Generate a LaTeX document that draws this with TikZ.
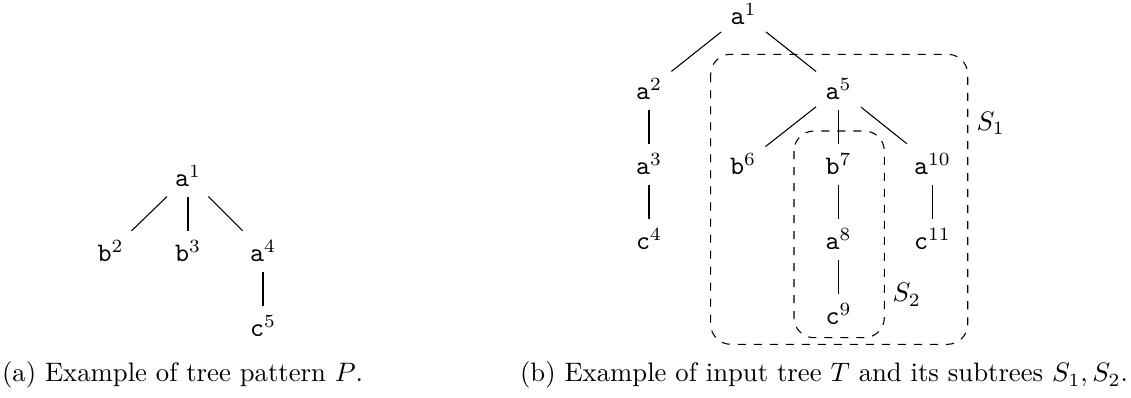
\documentclass[tikz,border=0pt]{standalone}
\begin{document}
\begin{tikzpicture}[x=0.3745pt,y=-0.3745pt,
  tn/.style={anchor=base,inner sep=0.3333em},
  subbox/.style={draw,dashed,rounded corners=7.5pt},
  lbl/.style={anchor=base west,inner sep=0pt},
  captext/.style={anchor=base west,inner sep=0pt}]
\useasboundingbox (0,0) rectangle (1131,398);
% tree pattern P
\node[tn] (p1) at (188,187) {\texttt{a}$^{1}$};
\node[tn] (p2) at (110.5,262) {\texttt{b}$^{2}$};
\node[tn] (p3) at (188,262) {\texttt{b}$^{3}$};
\node[tn] (p4) at (263,262) {\texttt{a}$^{4}$};
\node[tn] (p5) at (263,337) {\texttt{c}$^{5}$};
\draw (p1) -- (p2);
\draw (p1) -- (p3);
\draw (p1) -- (p4);
\draw (p4) -- (p5);
% input tree T
\node[tn] (t1) at (743.5,25) {\texttt{a}$^{1}$};
\node[tn] (t2) at (649,100) {\texttt{a}$^{2}$};
\node[tn] (t5) at (838.5,100) {\texttt{a}$^{5}$};
\node[tn] (t3) at (649,175) {\texttt{a}$^{3}$};
\node[tn] (t6) at (743,175) {\texttt{b}$^{6}$};
\node[tn] (t7) at (838.5,175) {\texttt{b}$^{7}$};
\node[tn] (t10) at (932.5,175) {\texttt{a}$^{10}$};
\node[tn] (t4) at (649,250) {\texttt{c}$^{4}$};
\node[tn] (t8) at (838.5,250) {\texttt{a}$^{8}$};
\node[tn] (t11) at (932.5,250) {\texttt{c}$^{11}$};
\node[tn] (t9) at (838.5,325) {\texttt{c}$^{9}$};
\draw (t1) -- (t2);
\draw (t1) -- (t5);
\draw (t2) -- (t3);
\draw (t3) -- (t4);
\draw (t5) -- (t6);
\draw (t5) -- (t7);
\draw (t5) -- (t10);
\draw (t7) -- (t8);
\draw (t8) -- (t9);
\draw (t10) -- (t11);
% subtrees
\draw[subbox] (710.7,54.3) rectangle (967.7,344.3);
\draw[subbox] (794,131) rectangle (884.3,337.7);
\node[lbl] (s1) at (976,131) {$S_1$};
\node[lbl] (s2) at (892,302) {$S_2$};
% captions
\node[captext] (ca) at (1.5,382) {(a) Example of tree pattern $P$.};
\node[captext] (cb) at (519.5,382) {(b) Example of input tree $T$ and its subtrees $S_1, S_2$.};
\end{tikzpicture}
\end{document}
